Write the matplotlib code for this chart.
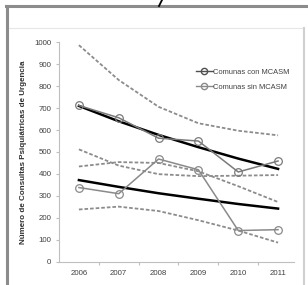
import numpy as np
import matplotlib
matplotlib.use("Agg")
import matplotlib.pyplot as plt
from matplotlib.lines import Line2D

# datos
years = ["2006", "2007", "2008", "2009", "2010", "2011"]

con_obs = [712, 656, 563, 550, 409, 459]
con_trend = [710, 640, 578, 522, 470, 423]
con_upper = [987, 828, 706, 631, 597, 576]
con_lower = [512, 438, 399, 390, 392, 395]

sin_obs = [338, 310, 468, 419, 142, 146]
sin_trend = [372, 341, 312, 287, 263, 242]
sin_upper = [434, 454, 450, 412, 344, 272]
sin_lower = [238, 251, 231, 189, 142, 87]

plt.rcParams['font.family'] = ['Liberation Sans', 'DejaVu Sans']

fig = plt.figure(figsize=(3.08, 2.85), dpi=100)
ax = fig.add_axes([59/308, 1 - 261.7/285, 235/308, 219.4/285])

x = np.arange(len(years))
gris = "#8c8c8c"

# intervalos (punteadas)
for serie in [con_upper, con_lower, sin_upper, sin_lower]:
    ax.plot(x, serie, linestyle=(0, (2.0, 1.1)), color=gris, lw=1.3)

# tendencias
ax.plot(x, con_trend, color="black", lw=1.8)
ax.plot(x, sin_trend, color="black", lw=1.8)

# observados
ax.plot(x, con_obs, color="#7a7a7a", lw=1.1, marker="o", ms=5.5,
        mfc="none", mec="#7a7a7a", mew=0.9)
ax.plot(x, sin_obs, color="#8a8a8a", lw=1.1, marker="o", ms=5.5,
        mfc="none", mec="#8a8a8a", mew=0.9)

ax.set_xlim(-0.5, 5.4)
ax.set_ylim(0, 1000)
ax.set_yticks(range(0, 1001, 100))
ax.set_xticks(x)
ax.set_xticklabels(years)
ax.set_xticks(np.arange(0.5, 5, 1), minor=True)
ax.tick_params(axis="x", which="major", length=0, labelsize=5.7, colors="#404040", pad=6)
ax.tick_params(axis="x", which="minor", length=2.5, color="#bfbfbf", width=0.8)
ax.tick_params(axis="y", length=2.5, color="#bfbfbf", width=0.8, labelsize=5.7,
               labelcolor="#404040", pad=3)

for s in ["top", "right"]:
    ax.spines[s].set_visible(False)
for s in ["left", "bottom"]:
    ax.spines[s].set_color("#bfbfbf")
    ax.spines[s].set_linewidth(0.8)

ax.set_ylabel("Número de Consultas Psiquiátricas de Urgencia", fontsize=5.8,
              fontweight="bold", color="#303030", labelpad=5)

leg_handles = [
    Line2D([], [], color="#505050", lw=1.0, marker="o", ms=4.5, mfc="none", mec="#505050"),
    Line2D([], [], color="#8a8a8a", lw=1.0, marker="o", ms=4.5, mfc="none", mec="#8a8a8a"),
]
ax.legend(leg_handles, ["Comunas con MCASM", "Comunas sin MCASM"], frameon=False,
          fontsize=5.4, loc="upper left", bbox_to_anchor=(0.555, 0.91),
          handlelength=2.2, handletextpad=0.1, labelspacing=1.0, labelcolor="#404040")

# marco de la captura
fig.add_artist(Line2D([6/308, 1], [1 - 6/285, 1 - 6/285], color="#8c8c8c", lw=2.2))
fig.add_artist(Line2D([7/308, 7/308], [0, 1 - 6/285], color="#8c8c8c", lw=2.2))
fig.add_artist(Line2D([9/308, 304/308], [1 - 28/285, 1 - 28/285], color="#e6e6e6", lw=0.8))
fig.add_artist(Line2D([304/308, 304/308], [0, 1 - 28/285], color="#d0d0d0", lw=1.5))
fig.add_artist(Line2D([159/308, 162/308], [1 - 6/285, 1.0], color="black", lw=1.3))

fig.savefig("out.png", dpi=100)
